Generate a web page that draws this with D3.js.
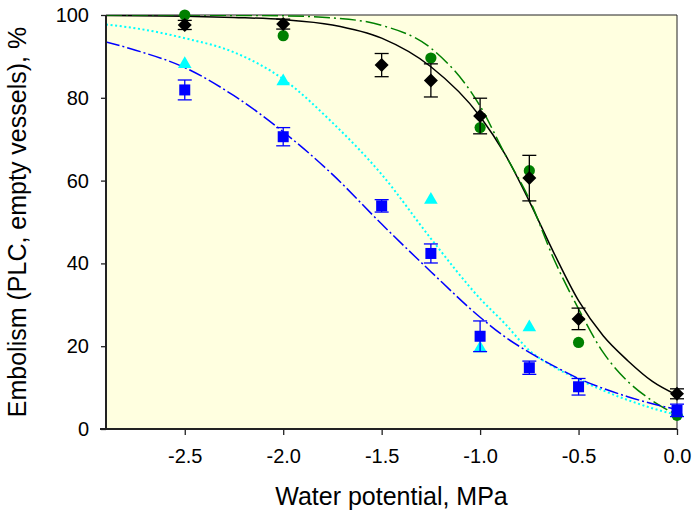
<!DOCTYPE html>
<html>
<head>
<meta charset="utf-8">
<script src="https://cdn.jsdelivr.net/npm/d3@7/dist/d3.min.js"></script>
<style>
  html, body { margin: 0; padding: 0; background: #ffffff; }
  svg { display: block; }
  text { font-family: "Liberation Sans", Arial, sans-serif; fill: #000; }
</style>
</head>
<body>
<svg id="chart" width="694" height="517"></svg>
<script>
// Measured points: water potential (MPa) and embolism (PLC, %)
const psi = [-2.5, -2.0, -1.5, -1.25, -1.0, -0.75, -0.5, 0.0];

// Black diamonds with standard errors
const blackPsi = [-2.5, -2.0, -1.5, -1.25, -1.0, -0.75, -0.5, 0.0];
const blackPLC = [97.6, 97.8, 87.9, 84.2, 75.6, 60.6, 26.6, 8.5];
const blackErr = [1.1, 1.2, 2.8, 4.0, 4.3, 5.5, 2.6, 1.2];

// Green circles
const greenPsi = [-2.5, -2.0, -1.25, -1.0, -0.75, -0.5, 0.0];
const greenPLC = [100.0, 95.0, 89.6, 72.8, 62.4, 20.9, 3.3];

// Cyan triangles
const cyanPsi = [-2.5, -2.0, -1.25, -1.0, -0.75, 0.0];
const cyanPLC = [88.4, 84.2, 55.6, 19.7, 24.8, 4.2];

// Blue squares with standard errors
const bluePsi = [-2.5, -2.0, -1.5, -1.25, -1.0, -0.75, -0.5, 0.0];
const bluePLC = [81.9, 70.6, 53.9, 42.4, 22.4, 14.8, 10.2, 4.5];
const blueErr = [2.4, 2.2, 1.5, 2.3, 3.7, 1.6, 2.0, 1.5];

// Fitted vulnerability curves, read at fixed water potentials
const curvePsi   = [-2.9, -2.75, -2.5, -2.25, -2.0, -1.75, -1.5, -1.25, -1.0, -0.875, -0.75, -0.625, -0.5, -0.375, -0.25, -0.125, 0.0];
const blackCurve = [99.9, 99.8, 99.7, 99.4, 98.9, 97.6, 94.4, 87.5, 75.5, 66.5, 55.0, 42.5, 31.0, 22.5, 16.5, 11.5, 8.2];
const greenCurve = [100.0, 100.0, 100.0, 99.9, 99.8, 99.3, 97.5, 92.0, 78.0, 66.5, 55.5, 41.0, 29.0, 18.5, 11.5, 6.8, 3.4];
const cyanCurve  = [97.7, 96.8, 94.4, 91.0, 84.5, 74.0, 61.5, 46.0, 31.5, 25.5, 19.0, 15.0, 12.0, 9.3, 7.0, 5.0, 3.4];
const blueCurve  = [93.5, 91.5, 87.3, 80.5, 71.8, 61.5, 49.5, 38.0, 27.0, 22.3, 18.5, 15.2, 12.2, 9.8, 7.8, 6.1, 4.7];

// Axis ticks
const xTicks = [-2.5, -2.0, -1.5, -1.0, -0.5, 0.0];
const xTickLabels = ["-2.5", "-2.0", "-1.5", "-1.0", "-0.5", "0.0"];
const yTicks = [0, 20, 40, 60, 80, 100];
const yTickLabels = ["0", "20", "40", "60", "80", "100"];

const xTitle = "Water potential, MPa";
const yTitle = "Embolism (PLC, empty vessels), %";

// ---------------------------------------------------------------
const svg = d3.select("#chart");
const plot = { left: 106, right: 677, top: 15, bottom: 429 };

const x = d3.scaleLinear().domain([-2.9, 0]).range([plot.left, plot.right]);
const y = d3.scaleLinear().domain([0, 100]).range([plot.bottom, plot.top]);

// plot background
svg.append("rect")
  .attr("x", plot.left).attr("y", plot.top)
  .attr("width", plot.right - plot.left).attr("height", plot.bottom - plot.top)
  .attr("fill", "#ffffe0");

// top and right frame lines
svg.append("path")
  .attr("d", `M${plot.left},${plot.top}H${plot.right}V${plot.bottom}`)
  .attr("fill", "none").attr("stroke", "#222").attr("stroke-width", 1);

const clip = svg.append("clipPath").attr("id", "plotclip")
  .append("rect")
  .attr("x", plot.left).attr("y", plot.top)
  .attr("width", plot.right - plot.left).attr("height", plot.bottom - plot.top);

// fitted curves
const line = d3.line()
  .x(d => x(d[0])).y(d => y(d[1]))
  .curve(d3.curveMonotoneX);

const curves = [
  { values: blackCurve, color: "#000000", dash: null, width: 1.5 },
  { values: greenCurve, color: "#008000", dash: "16,4,2,4", width: 1.5 },
  { values: cyanCurve,  color: "#00ffff", dash: "2,2.6", width: 2 },
  { values: blueCurve,  color: "#0000ff", dash: "14,3,2,3", width: 1.5 }
];

const curveG = svg.append("g").attr("clip-path", "url(#plotclip)");
curves.forEach(c => {
  curveG.append("path")
    .datum(curvePsi.map((p, i) => [p, c.values[i]]))
    .attr("d", line)
    .attr("fill", "none")
    .attr("stroke", c.color)
    .attr("stroke-width", c.width)
    .attr("stroke-dasharray", c.dash);
});

// markers
const markG = svg.append("g");

// cyan triangles
markG.selectAll(".tri").data(cyanPsi.map((p, i) => [p, cyanPLC[i]]))
  .join("path")
  .attr("d", d3.symbol().type(d3.symbolTriangle).size(80))
  .attr("transform", d => `translate(${x(d[0])},${y(d[1]) + 1})`)
  .attr("fill", "#00ffff");

// green circles
markG.selectAll(".circ").data(greenPsi.map((p, i) => [p, greenPLC[i]]))
  .join("circle")
  .attr("cx", d => x(d[0])).attr("cy", d => y(d[1]))
  .attr("r", 5.6)
  .attr("fill", "#008000");

function errorBars(psArr, vals, errs, color) {
  const g = markG.append("g").attr("stroke", color).attr("stroke-width", 1.3);
  psArr.forEach((p, i) => {
    const cx = x(p);
    const y1 = y(vals[i] + errs[i]);
    const y0 = y(vals[i] - errs[i]);
    g.append("line").attr("x1", cx).attr("x2", cx).attr("y1", y1).attr("y2", y0);
    g.append("line").attr("x1", cx - 7).attr("x2", cx + 7).attr("y1", y1).attr("y2", y1);
    g.append("line").attr("x1", cx - 7).attr("x2", cx + 7).attr("y1", y0).attr("y2", y0);
  });
}

// black diamonds with error bars
errorBars(blackPsi, blackPLC, blackErr, "#000000");
markG.selectAll(".dia").data(blackPsi.map((p, i) => [p, blackPLC[i]]))
  .join("path")
  .attr("d", "M0,-7L7,0L0,7L-7,0Z")
  .attr("transform", d => `translate(${x(d[0])},${y(d[1])})`)
  .attr("fill", "#000000");

// blue squares with error bars
errorBars(bluePsi, bluePLC, blueErr, "#0000ff");
markG.selectAll(".sq").data(bluePsi.map((p, i) => [p, bluePLC[i]]))
  .join("rect")
  .attr("x", d => x(d[0]) - 5.5).attr("y", d => y(d[1]) - 5.5)
  .attr("width", 11).attr("height", 11)
  .attr("fill", "#0000ff");

// axes
const xAxis = d3.axisBottom(x)
  .tickValues(xTicks)
  .tickFormat((d, i) => xTickLabels[i])
  .tickSizeInner(6).tickSizeOuter(0).tickPadding(14);
const yAxis = d3.axisLeft(y)
  .tickValues(yTicks)
  .tickFormat((d, i) => yTickLabels[i])
  .tickSizeInner(5).tickSizeOuter(0).tickPadding(12);

const gx = svg.append("g").attr("transform", `translate(0,${plot.bottom})`).call(xAxis);
const gy = svg.append("g").attr("transform", `translate(${plot.left},0)`).call(yAxis);

[gx, gy].forEach(g => {
  g.select(".domain").attr("stroke", "#222").attr("stroke-width", 2);
  g.selectAll(".tick line").attr("stroke", "#222").attr("stroke-width", 1.3);
  g.selectAll(".tick text")
    .style("font-family", "'Liberation Sans', Arial, sans-serif")
    .style("font-size", "20px")
    .attr("fill", "#000");
});
gy.select(".domain").attr("d", `M0,${plot.bottom + 1}V${plot.top}`);
gx.select(".domain").attr("d", `M${plot.left - 6},0H${plot.right}`);

// axis titles
svg.append("text")
  .attr("x", (plot.left + plot.right) / 2)
  .attr("y", 505)
  .attr("text-anchor", "middle")
  .style("font-size", "25px")
  .text(xTitle);

svg.append("text")
  .attr("transform", `translate(26,${(plot.top + plot.bottom) / 2}) rotate(-90)`)
  .attr("text-anchor", "middle")
  .style("font-size", "25px")
  .text(yTitle);
</script>
</body>
</html>
